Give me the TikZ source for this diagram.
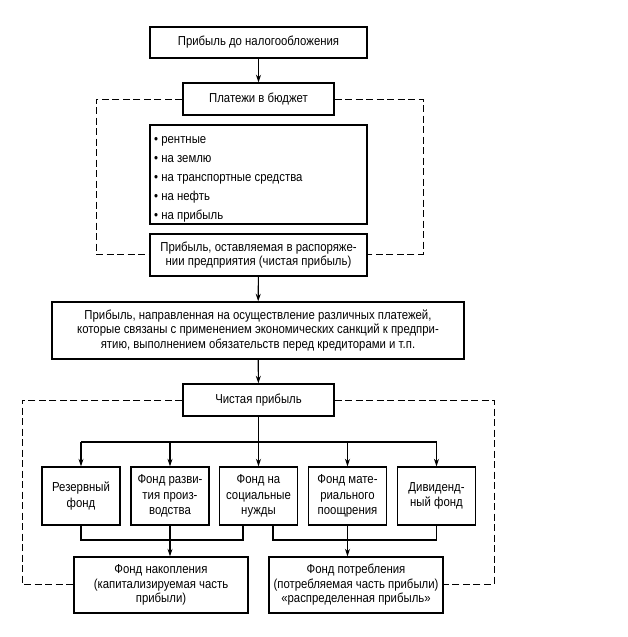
\documentclass[tikz,border=0pt]{standalone}
\usepackage{fontspec}
\setmainfont[FakeStretch=0.875]{Liberation Sans}
\usetikzlibrary{arrows.meta}
\begin{document}
\begin{tikzpicture}[x=1pt,y=-1pt,
  box/.style={draw,line width=1.4pt,inner sep=0pt,align=center,font=\fontsize{13}{14.5}\selectfont},
  fund/.style={box,minimum width=78pt,minimum height=58pt,font=\fontsize{13}{15.5}\selectfont},
  item/.style={anchor=base west,inner sep=0pt,font=\fontsize{13}{14.5}\selectfont},
  conn/.style={line width=1.1pt},
  arr/.style={conn,-{Stealth[length=7.5pt,width=5pt]}},
  dsh/.style={line width=1pt,dash pattern=on 7pt off 3.5pt}]
\useasboundingbox (0,0) rectangle (627,637);
\node[box,minimum width=217pt,minimum height=31pt] (top) at (258.5,42.5) {Прибыль до налогообложения};
\node[box,minimum width=151pt,minimum height=32pt] (bud) at (258.5,99) {Платежи в бюджет};
\node[box,minimum width=217pt,minimum height=99pt] (list) at (258.5,174.5) {};
\foreach \i/\y/\t in {1/143.5/рентные,2/162.5/на землю,3/181.5/на транспортные средства,4/200.5/на нефть,5/219.5/на прибыль}
  \node[item] (i\i) at (154,\y) {• \t};
\node[box,minimum width=217pt,minimum height=42pt] (net1) at (258.5,255) {Прибыль, оставляемая в распоряже-\\нии предприятия (чистая прибыль)};
\node[box,minimum width=412pt,minimum height=57pt] (big) at (258,330.5) {Прибыль, направленная на осуществление различных платежей,\\которые связаны с применением экономических санкций к предпри-\\ятию, выполнением обязательств перед кредиторами и т.п.};
\node[box,minimum width=151pt,minimum height=32pt] (net2) at (258.5,400) {Чистая прибыль};
\foreach \n/\x/\t in {f1/81/{Резервный\\фонд},f2/170/{Фонд разви-\\тия произ-\\водства},f3/258.5/{Фонд на\\социальные\\нужды},f4/347.5/{Фонд мате-\\риального\\поощрения},f5/436.5/{Дивиденд-\\ный фонд}}
  \node[fund] (\n) at (\x,496) {\t};
\node[box,minimum width=174pt,minimum height=56pt] (acc) at (161,585) {Фонд накопления\\(капитализируемая часть\\прибыли)};
\node[box,minimum width=174pt,minimum height=56pt] (cons) at (356,585) {Фонд потребления\\(потребляемая часть прибыли)\\«распределенная прибыль»};
% coordinates
\coordinate (bl) at (22,400); \coordinate (br) at (494,400);
\coordinate (bl2) at (22,584); \coordinate (br2) at (494,584);
\coordinate (ul) at (96,99); \coordinate (ur) at (423,99);
\coordinate (ul2) at (96,254); \coordinate (ur2) at (423,254);
\coordinate (bus) at (258.5,442);
\coordinate (busL) at (81,442); \coordinate (busR) at (436.5,442);
% arrows
\draw[arr] (top) -- (bud);
\draw[arr] (net1) -- (big);
\draw[arr] (big) -- (net2);
\draw[conn] (net2) -- (bus);
\draw[conn] (busL) -- (busR);
\foreach \n in {f1,f2,f3,f4,f5} \draw[arr] (bus -| \n) -- (\n.north);
\draw[conn] (f1.south) -- (81,540) -| (243,525);
\draw[conn] (273,525) |- (436.5,540) -- (f5.south);
\draw[arr] (f2.south) -- (acc.north -| f2);
\draw[arr] (f4.south) -- (cons.north -| f4);
% dashed
\draw[dsh] (bud.west) -- (ul) -- (ul2) -- (ul2 -| net1.west);
\draw[dsh] (bud.east) -- (ur) -- (ur2) -- (ur2 -| net1.east);
\draw[dsh] (net2.west) -- (bl) -- (bl2) -- (bl2 -| acc.west);
\draw[dsh] (net2.east) -- (br) -- (br2) -- (br2 -| cons.east);
\end{tikzpicture}
\end{document}
